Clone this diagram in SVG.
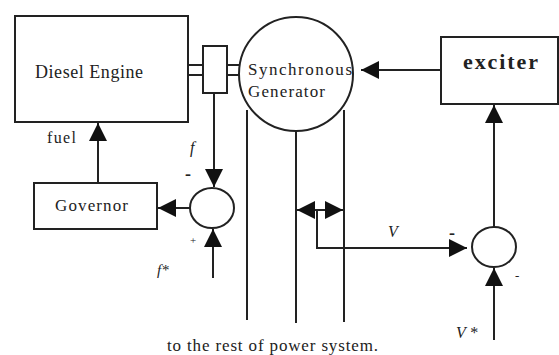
<svg xmlns="http://www.w3.org/2000/svg" width="559" height="355" viewBox="0 0 559 355">
<defs>
<style>
.s{fill:none;stroke:#222;stroke-width:2}
.b{fill:#fff;stroke:#222;stroke-width:2}
.t{font-family:"Liberation Serif","Times New Roman",serif;fill:#222}
.i{font-style:italic}
</style>
<marker id="ahL" viewBox="0 0 10 10" refX="10" refY="5" markerWidth="18" markerHeight="18" markerUnits="userSpaceOnUse" orient="auto">
<path d="M0,0 L10,5 L0,10 z" fill="#111"/>
</marker>
</defs>
<rect width="559" height="355" fill="#fff"/>

<g id="connectors">
<path class="s" d="M188,65 H203 M188,75 H203 M227,65 H242 M227,75 H241"/>
<path class="s" d="M441,70 H361" marker-end="url(#ahL)"/>
<path class="s" d="M214,93 V187" marker-end="url(#ahL)"/>
<path class="s" d="M190,208 H158" marker-end="url(#ahL)"/>
<path class="s" d="M98,183 V123" marker-end="url(#ahL)"/>
<path class="s" d="M213,278 V229" marker-end="url(#ahL)"/>
<path class="s" d="M247,110 V320 M296,131 V323 M344,110 V322"/>
<path class="s" d="M317,210 H297" marker-end="url(#ahL)"/>
<path class="s" d="M317,210 H343" marker-end="url(#ahL)"/>
<path class="s" d="M317,210 V248 H467" marker-end="url(#ahL)"/>
<path class="s" d="M494,227 V105" marker-end="url(#ahL)"/>
<path class="s" d="M494,340 V268" marker-end="url(#ahL)"/>
</g>

<g id="diesel">
<rect class="b" x="15" y="16" width="173" height="106"/>
<text class="t" x="35" y="78" font-size="18" textLength="108" lengthAdjust="spacing">Diesel Engine</text>
</g>
<g id="coupling">
<rect class="b" x="203" y="46" width="24" height="47"/>
</g>
<g id="generator">
<circle class="b" cx="296" cy="74" r="57"/>
<text class="t" x="248" y="75" font-size="17" textLength="104" lengthAdjust="spacing">Synchronous</text>
<text class="t" x="248" y="97" font-size="17" textLength="77" lengthAdjust="spacing">Generator</text>
</g>
<g id="exciter">
<rect class="b" x="441" y="37" width="117" height="67"/>
<text class="t" x="463" y="69" font-size="22" font-weight="bold" textLength="75" lengthAdjust="spacing">exciter</text>
</g>
<g id="governor">
<rect class="b" x="34" y="183" width="123" height="46"/>
<text class="t" x="55" y="211" font-size="17" textLength="73" lengthAdjust="spacing">Governor</text>
</g>
<g id="sum-f">
<ellipse class="b" cx="212" cy="208" rx="22" ry="20"/>
</g>
<g id="sum-v">
<ellipse class="b" cx="494" cy="247" rx="22" ry="20"/>
</g>

<g id="labels">
<text class="t" x="47" y="143" font-size="16" textLength="29" lengthAdjust="spacing">fuel</text>
<text class="t i" x="190" y="153" font-size="16">f</text>
<text class="t" x="185" y="180" font-size="18" font-weight="bold">-</text>
<text class="t" x="190" y="244" font-size="11">+</text>
<text class="t i" x="157" y="275" font-size="15">f*</text>
<text class="t i" x="388" y="237" font-size="16">V</text>
<text class="t" x="449" y="239" font-size="18" font-weight="bold">-</text>
<text class="t" x="515" y="280" font-size="13">-</text>
<text class="t i" x="456" y="338" font-size="16">V *</text>
<text class="t" x="167" y="351" font-size="17" textLength="211" lengthAdjust="spacing">to the rest of power system.</text>
</g>
</svg>
